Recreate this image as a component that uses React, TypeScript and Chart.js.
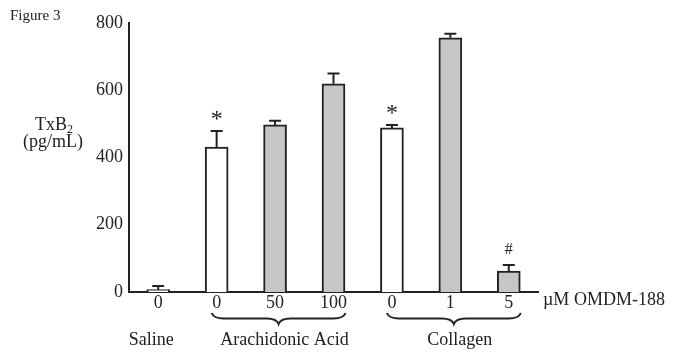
import React, { useEffect, useRef } from "react";
import { Chart, registerables } from "chart.js";

Chart.register(...registerables);

const categories = ["0", "0", "50", "100", "0", "1", "5"];
const means = [7, 431, 497, 619, 488, 756, 62];
const errors = [11, 48, 12, 31, 9, 12, 18];
const fills = ["#ffffff", "#ffffff", "#c6c6c6", "#c6c6c6", "#ffffff", "#c6c6c6", "#c6c6c6"];
const marks = ["", "*", "", "", "*", "", "#"];
const groupLabels = ["Saline", "Arachidonic Acid", "Collagen"];
const groupFirst = [0, 1, 4];
const groupLast = [0, 3, 6];
const groupBrace = [false, true, true];
const yTicks = [0, 200, 400, 600, 800];

const SERIF = "'Liberation Serif', 'Times New Roman', serif";
const INK = "#222222";
const FS = 18;

const overlay = {
  id: "overlay",
  afterDatasetsDraw(chart: any) {
    const ctx = chart.ctx;
    const x = chart.scales.x;
    const y = chart.scales.y;
    ctx.save();
    ctx.strokeStyle = INK;
    ctx.fillStyle = INK;
    ctx.lineWidth = 2;
    means.forEach((m, i) => {
      const cx = x.getPixelForValue(i);
      const yTop = y.getPixelForValue(m);
      const yErr = y.getPixelForValue(m + errors[i]);
      ctx.beginPath();
      ctx.moveTo(cx, yTop);
      ctx.lineTo(cx, yErr);
      ctx.moveTo(cx - 6, yErr);
      ctx.lineTo(cx + 6, yErr);
      ctx.stroke();
      if (marks[i]) {
        ctx.textAlign = "center";
        ctx.textBaseline = "alphabetic";
        if (marks[i] === "*") {
          ctx.font = `24px ${SERIF}`;
          ctx.fillText(marks[i], cx, yErr - 5);
        } else {
          ctx.font = `16px ${SERIF}`;
          ctx.fillText(marks[i], cx, yErr - 11);
        }
      }
    });
    ctx.restore();
  },
  afterDraw(chart: any) {
    const ctx = chart.ctx;
    const x = chart.scales.x;
    const area = chart.chartArea;
    ctx.save();
    ctx.fillStyle = INK;
    ctx.strokeStyle = INK;
    // Figure label
    ctx.font = `15px ${SERIF}`;
    ctx.textAlign = "left";
    ctx.textBaseline = "alphabetic";
    ctx.fillText("Figure 3", 10, 20);
    // Y title TxB2 (pg/mL)
    ctx.font = `${FS}px ${SERIF}`;
    const t1 = "TxB";
    const w1 = ctx.measureText(t1).width;
    ctx.font = `12px ${SERIF}`;
    const w2 = ctx.measureText("2").width;
    const cxT = 54;
    const sx = cxT - (w1 + w2) / 2;
    ctx.font = `${FS}px ${SERIF}`;
    ctx.fillText(t1, sx, 130);
    ctx.font = `12px ${SERIF}`;
    ctx.fillText("2", sx + w1, 133);
    ctx.font = `${FS}px ${SERIF}`;
    ctx.textAlign = "center";
    ctx.fillText("(pg/mL)", cxT - 1, 147);
    // unit label
    ctx.textAlign = "left";
    ctx.textBaseline = "middle";
    ctx.font = `${FS}px ${SERIF}`;
    ctx.fillText("\u00b5M OMDM-188", area.right + 5, 300);
    // braces and group labels
    ctx.lineWidth = 2;
    groupLabels.forEach((g, i) => {
      const x1 = x.getPixelForValue(groupFirst[i]) - 5;
      const x2 = x.getPixelForValue(groupLast[i]) + 12;
      const mid = (x1 + x2) / 2;
      if (groupBrace[i]) {
        const yb = 313;
        const h = 11;
        const r = 12;
        ctx.beginPath();
        ctx.moveTo(x1, yb);
        ctx.quadraticCurveTo(x1 + 2, yb + h / 2, x1 + r, yb + h / 2);
        ctx.lineTo(mid - r, yb + h / 2);
        ctx.quadraticCurveTo(mid - 2, yb + h / 2, mid, yb + h);
        ctx.quadraticCurveTo(mid + 2, yb + h / 2, mid + r, yb + h / 2);
        ctx.lineTo(x2 - r, yb + h / 2);
        ctx.quadraticCurveTo(x2 - 2, yb + h / 2, x2, yb);
        ctx.stroke();
      }
      const lx = groupBrace[i] ? mid + 6 : x.getPixelForValue(groupFirst[i]) - 7;
      ctx.textAlign = "center";
      ctx.textBaseline = "middle";
      ctx.font = `${FS}px ${SERIF}`;
      ctx.fillText(g, lx, 340);
    });
    ctx.restore();
  },
};

export default function App() {
  const ref = useRef<HTMLCanvasElement>(null);
  useEffect(() => {
    if (!ref.current) return;
    const chart = new Chart(ref.current, {
      type: "bar",
      data: {
        labels: categories,
        datasets: [
          {
            data: means,
            backgroundColor: fills,
            borderColor: INK,
            borderWidth: 2,
            borderSkipped: "bottom",
            barThickness: 23,
          },
        ],
      },
      options: {
        responsive: false,
        animation: false,
        layout: { padding: { top: 23, right: 136, bottom: 44, left: 0 } },
        plugins: { legend: { display: false }, tooltip: { enabled: false } },
        scales: {
          x: {
            grid: { display: false, drawTicks: false },
            border: { display: true, color: INK, width: 2 },
            ticks: { color: INK, font: { family: SERIF, size: FS }, padding: 0 },
            afterFit: (s: any) => {
              s.height = 16;
            },
          },
          y: {
            min: 0,
            max: 800,
            afterBuildTicks: (s: any) => {
              s.ticks = yTicks.map((v) => ({ value: v }));
            },
            grid: { display: false, drawTicks: false },
            border: { display: true, color: INK, width: 2 },
            ticks: { color: INK, font: { family: SERIF, size: FS }, padding: 6 },
            afterFit: (s: any) => {
              s.width = 129;
            },
          },
        },
      },
      plugins: [overlay],
    });
    return () => chart.destroy();
  }, []);
  return (
    <div style={{ position: "fixed", left: 0, top: 0, width: 674, height: 352, background: "#fff" }}>
      <canvas ref={ref} width={674} height={352} />
    </div>
  );
}
